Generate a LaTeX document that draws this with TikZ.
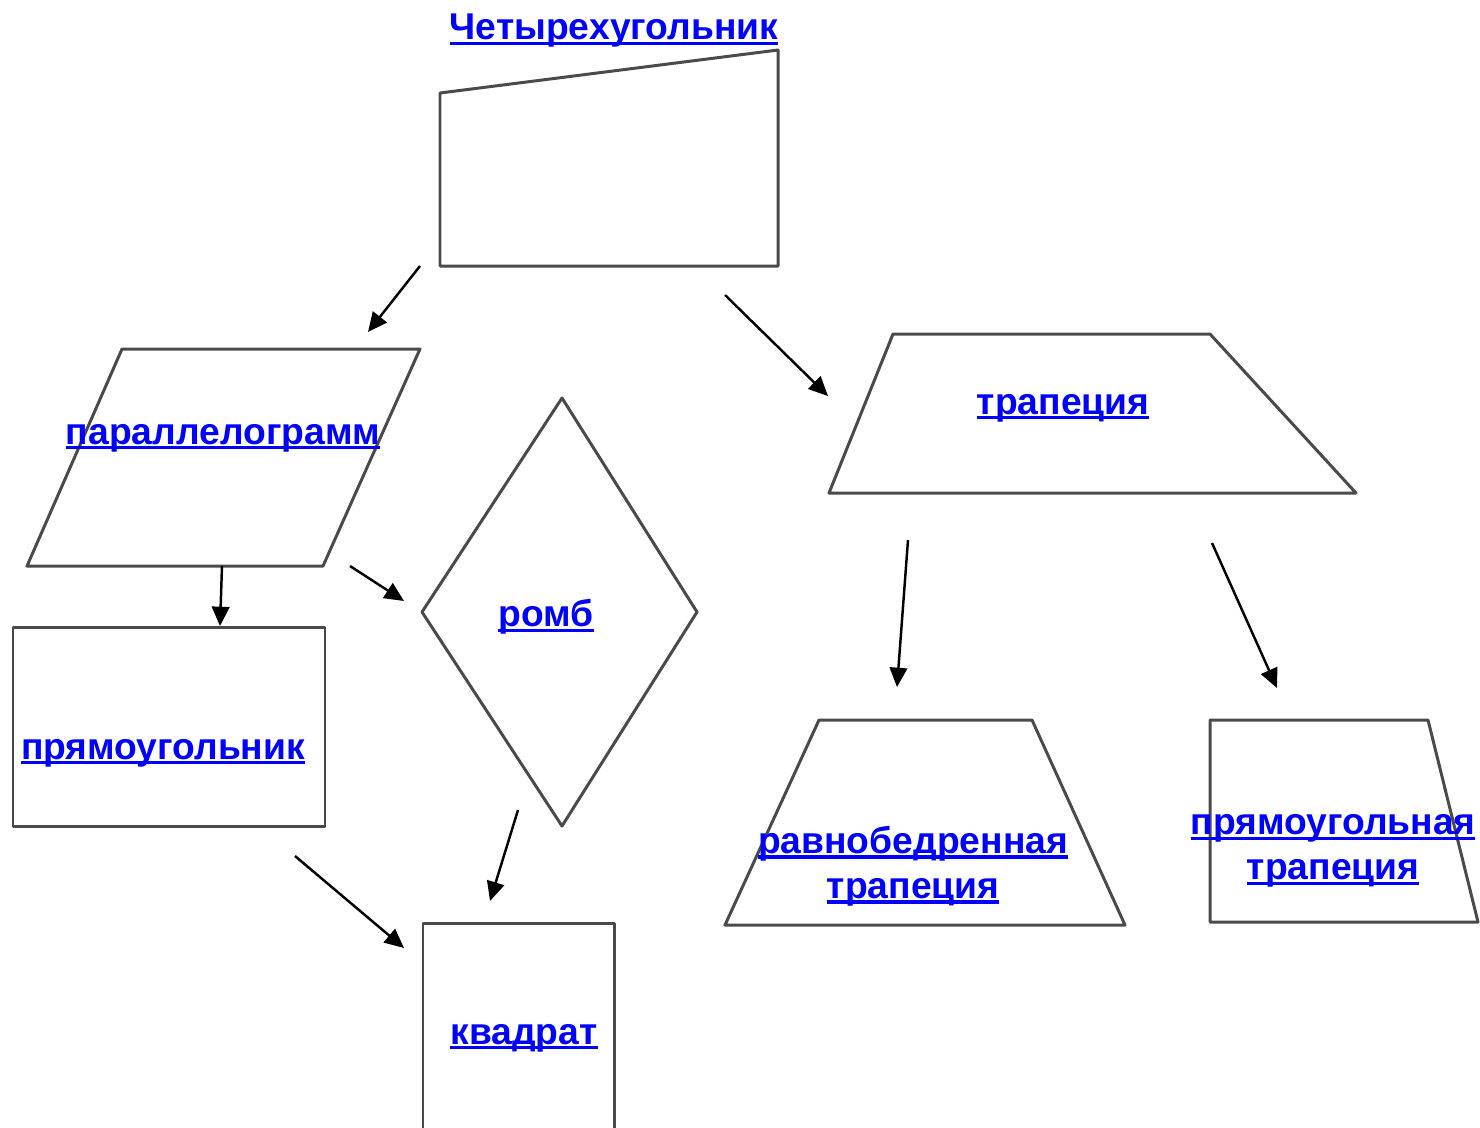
\documentclass[tikz,border=0pt]{standalone}
\usepackage{fontspec}
\setmainfont{Liberation Sans}
\usepackage{xcolor}
\usepackage{tikz}
\usetikzlibrary{arrows.meta}
\definecolor{linkblue}{HTML}{0000FF}
\definecolor{edge}{HTML}{4A4A4A}
\newcommand{\lnk}[1]{\setbox0\hbox{#1}\rlap{\rule[-0.14em]{\wd0}{0.09em}}\box0}

\begin{document}
\begin{tikzpicture}[x=0.02cm,y=-0.02cm]
  \tikzstyle{figure}=[draw=edge,line width=1.7pt,line join=round]
  \tikzstyle{figname}=[text=linkblue,font=\fontsize{21.2pt}{25.6pt}\selectfont\bfseries,
    inner sep=0pt,align=center]
  \tikzstyle{arr}=[-{Triangle[length=11pt,width=10pt]},black,line width=1.4pt]
  \useasboundingbox (0,0) rectangle (1480,1127);
  % shapes
  \draw[figure] (440,93) -- (778,50) -- (778,266) -- (440,266) -- cycle;
  \draw[figure] (122,349) -- (420,349) -- (323,566) -- (27,566) -- cycle;
  \draw[figure] (562,398) -- (697,612) -- (562,826) -- (422,612) -- cycle;
  \draw[figure] (13,627) rectangle (325,826);
  \draw[figure] (423,1130) -- (423,923) -- (614,923) -- (614,1130);
  \draw[figure] (893,334) -- (1210,334) -- (1356,493) -- (829,493) -- cycle;
  \draw[figure] (819,720) -- (1032,720) -- (1125,925) -- (725,925) -- cycle;
  \draw[figure] (1210,720) -- (1428,720) -- (1478,922) -- (1210,922) -- cycle;
  % labels
  \node[figname] (quad) at (614,31) {\lnk{Четырехугольник}};
  \node[figname] (par) at (223,438) {\lnk{параллелограмм}};
  \node[figname] (rhomb) at (546,617) {\lnk{ромб}};
  \node[figname] (rect) at (163,753) {\lnk{прямоугольник}};
  \node[figname] (sq) at (524,1038) {\lnk{квадрат}};
  \node[figname] (trap) at (1063,408) {\lnk{трапеция}};
  \node[figname] (isotrap) at (913,866) {\lnk{равнобедренная}\\\lnk{трапеция}};
  \node[figname] (righttrap) at (1333,851) {\lnk{прямоугольная}\\\lnk{трапеция}};
  % arrow ends
  \coordinate (quad-l) at (420,266);
  \coordinate (quad-r) at (725,295);
  \coordinate (par-t) at (368,332);
  \coordinate (par-b) at (222,566);
  \coordinate (par-r) at (350,566);
  \coordinate (rect-t) at (220,626);
  \coordinate (rect-b) at (295,856);
  \coordinate (rhomb-l) at (404,601);
  \coordinate (rhomb-b) at (518,810);
  \coordinate (sq-l) at (404,948);
  \coordinate (sq-t) at (490,901);
  \coordinate (trap-l) at (828,396);
  \coordinate (trap-bl) at (908,540);
  \coordinate (trap-br) at (1212,543);
  \coordinate (isotrap-t) at (897,687);
  \coordinate (righttrap-t) at (1277,688);
  \draw[arr] (quad-l) -- (par-t);
  \draw[arr] (quad-r) -- (trap-l);
  \draw[arr] (par-b) -- (rect-t);
  \draw[arr] (par-r) -- (rhomb-l);
  \draw[arr] (rect-b) -- (sq-l);
  \draw[arr] (rhomb-b) -- (sq-t);
  \draw[arr] (trap-bl) -- (isotrap-t);
  \draw[arr] (trap-br) -- (righttrap-t);
\end{tikzpicture}
\end{document}
